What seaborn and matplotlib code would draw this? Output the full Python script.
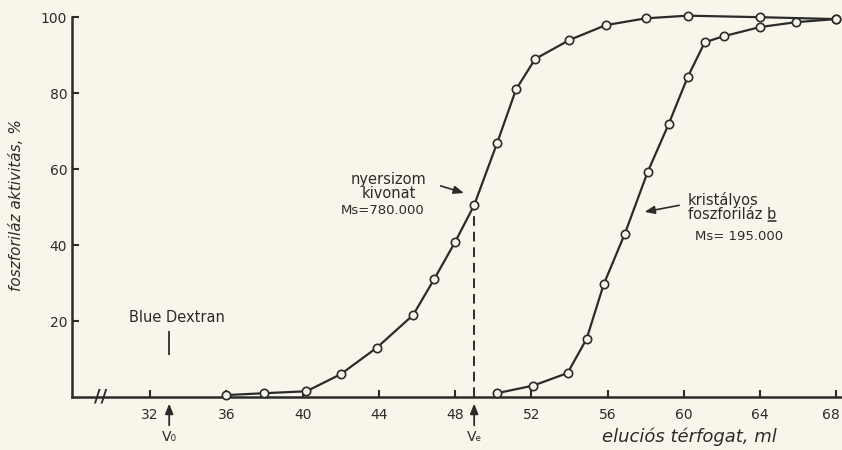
import matplotlib
matplotlib.use("Agg")
import matplotlib.pyplot as plt
import matplotlib.transforms as mtransforms
from matplotlib.lines import Line2D
import seaborn as sns
import pandas as pd

# ---- data ----
crude_v = [36, 38, 40.2, 42, 43.9, 45.8, 46.9, 48, 49, 50.2, 51.2, 52.2, 54, 55.9, 58, 60.2, 64, 68]
crude_y = [0.5, 1, 1.5, 6, 13, 21.6, 31, 40.8, 50.5, 66.8, 81, 89, 94, 97.9, 99.7, 100.4, 100, 99.5]

cryst_v = [50.2, 52.1, 53.9, 54.9, 55.8, 56.9, 58.1, 59.2, 60.2, 61.1, 62.1, 64, 65.9, 68]
cryst_y = [1, 3, 6.3, 15.3, 29.7, 42.9, 59.2, 71.8, 84.2, 93.4, 95, 97.4, 98.7, 99.5]

x_ticks = [32, 36, 40, 44, 48, 52, 56, 60, 64, 68]
y_ticks = [20, 40, 60, 80, 100]
v0 = 33
ve = 49

sns.set_theme(style="ticks")
plt.rcParams["font.family"] = ["DejaVu Sans"]
bg = "#f8f6ea"
ink = "#2b2b2b"

fig = plt.figure(figsize=(8.42, 4.5), dpi=100, facecolor=bg)
ax = fig.add_axes([0.0855, 0.1178, 0.9145, 0.844], facecolor=bg)

df1 = pd.DataFrame({"v": crude_v, "y": crude_y})
df2 = pd.DataFrame({"v": cryst_v, "y": cryst_y})
for df in (df1, df2):
    sns.lineplot(data=df, x="v", y="y", ax=ax, color=ink, lw=1.6,
                 marker="o", markersize=6, markerfacecolor=bg,
                 markeredgecolor=ink, markeredgewidth=1.2, clip_on=False,
                 zorder=3)

ax.set_xlim(27.9, 68.3)
ax.set_ylim(0, 100)
ax.set_xticks(x_ticks)
ax.set_yticks(y_ticks)
ax.tick_params(direction="in", length=5, width=1.5, colors=ink,
               labelsize=10, labelcolor=ink)
ax.tick_params(axis="x", pad=8)
for s in ("top", "right"):
    ax.spines[s].set_visible(False)
for s in ("left", "bottom"):
    ax.spines[s].set_linewidth(1.8)
    ax.spines[s].set_color(ink)
ax.set_xlabel("")
ax.set_ylabel("")

# axis titles
fig.text(0.02, 0.545, "foszforiláz aktivitás, %", rotation=90, style="italic",
         fontsize=11, color=ink, ha="center", va="center")
fig.text(0.819, 0.03, "eluciós térfogat, ml", style="italic", fontsize=13,
         color=ink, ha="center", va="center")

# axis break
ax.text(29.4, 0, "//", ha="center", va="center", fontsize=13, color=ink,
        fontweight="bold", clip_on=False)

# Ve dashed line
ax.vlines(ve, 0, 50, colors=ink, linestyles=(0, (5, 3)), lw=1.4)

# V0 / Ve arrows below axis
for xv, lab in ((v0, "V₀"), (ve, "Vₑ")):
    ax.annotate("", xy=(xv, -1), xytext=(xv, -8.2), annotation_clip=False,
                arrowprops=dict(arrowstyle="-|>,head_width=0.2,head_length=0.5",
                                color=ink, lw=1.3))
    ax.text(xv, -10.6, lab, ha="center", va="center", fontsize=10, color=ink,
            clip_on=False)

# Blue Dextran
ax.text(v0 + 0.4, 21, "Blue Dextran", ha="center", va="center", fontsize=10.5,
        color=ink)
ax.vlines(v0, 11, 17.5, colors=ink, lw=1.3)

# annotation crude extract
ax.text(44.5, 55.5, "nyersizom\nkivonat", ha="center", va="center", fontsize=10.5,
        color=ink, linespacing=0.95)
ax.text(42.0, 49.0, "Ms=780.000", ha="left", va="center", fontsize=9.5,
        color=ink)
ax.annotate("", xy=(48.6, 53.5), xytext=(47.1, 55.8),
            arrowprops=dict(arrowstyle="-|>,head_width=0.2,head_length=0.5",
                            color=ink, lw=1.2))

# annotation crystalline
kt = ax.text(60.2, 50.0, "kristályos\nfoszforiláz b", ha="left", va="center",
             fontsize=10.5, color=ink, linespacing=0.95)
ax.text(60.6, 42.3, "Ms= 195.000", ha="left", va="center", fontsize=9.5,
        color=ink)
ax.annotate("", xy=(57.8, 48.6), xytext=(59.9, 50.6),
            arrowprops=dict(arrowstyle="-|>,head_width=0.2,head_length=0.5",
                            color=ink, lw=1.2))

fig.canvas.draw()
# keep the last x tick label inside the figure
last = ax.get_xticklabels()[-1]
last.set_transform(last.get_transform() +
                   mtransforms.ScaledTranslation(-4 / 72, 0, fig.dpi_scale_trans))

# underline the "b" of "foszforiláz b"
bb = kt.get_window_extent(renderer=fig.canvas.get_renderer())
inv = fig.transFigure.inverted()
(x0f, yf) = inv.transform((bb.x1 - 7.5, bb.y0 + 1))
(x1f, _) = inv.transform((bb.x1 + 0.5, bb.y0 + 1))
fig.add_artist(Line2D([x0f, x1f], [yf, yf], color=ink, lw=1.1,
                      transform=fig.transFigure))

fig.savefig("out.png", dpi=100, facecolor=bg)
